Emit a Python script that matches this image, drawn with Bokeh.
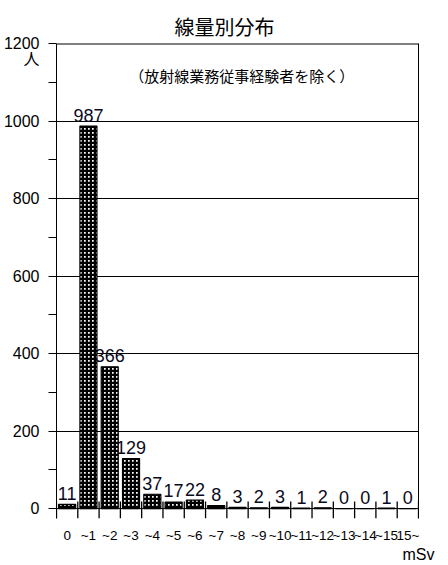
from bokeh.plotting import figure
from bokeh.models import (Range1d, LinearAxis, FixedTicker, Span, Label,
                          Title, ColumnDataSource)
from bokeh.core.properties import value
from bokeh.embed import file_html
from bokeh.resources import INLINE

title_text = "線量別分布"
subtitle_text = "（放射線業務従事経験者を除く）"
y_unit = "人"
x_unit = "mSv"
categories = ["0", "~1", "~2", "~3", "~4", "~5", "~6", "~7", "~8", "~9",
              "~10", "~11", "~12", "~13", "~14", "~15", "15~"]
counts = [11, 987, 366, 129, 37, 17, 22, 8, 3, 2, 3, 1, 2, 0, 0, 1, 0]
y_major = [0, 200, 400, 600, 800, 1000, 1200]
y_minor = [0, 100, 200, 300, 400, 500, 600, 700, 800, 900, 1000, 1100, 1200]
y_unit_pos = 1159
grid_vals = [200, 400, 600, 800, 1000]

NUM = "'Liberation Sans', 'Noto Sans CJK JP', sans-serif"
LAT = "Liberation Sans"
CJK = "Noto Sans CJK JP"

n = len(categories)
xs = list(range(n))
src = ColumnDataSource(dict(x=xs, top=counts, label=[str(c) for c in counts]))

YMIN = -25.6
YMAX = 1200
p = figure(width=440, height=565, output_backend="svg", toolbar_location=None,
           x_range=Range1d(-0.5, n - 0.5), y_range=Range1d(YMIN, YMAX),
           min_border_left=30, min_border_right=22, min_border_top=43,
           min_border_bottom=20, x_axis_location=None, y_axis_location=None)
p.outline_line_color = None
p.background_fill_color = "white"
p.border_fill_color = "white"
p.title.visible = False

main_title = Title(text=title_text, align="left", offset=118, standoff=5,
                   text_font=CJK, text_font_size="20px",
                   text_font_style="normal", text_color="#000000")
p.add_layout(main_title, "above")

# left axis: tick marks drawn as minor ticks, labels from major ticks
ya = LinearAxis(ticker=FixedTicker(ticks=y_major + [y_unit_pos], minor_ticks=y_minor))
ya.major_label_overrides = {y_unit_pos: y_unit}
ya.major_tick_out = 0
ya.major_tick_in = 0
ya.minor_tick_out = 8
ya.minor_tick_in = 0
ya.major_label_standoff = 9
ya.major_label_text_font = NUM
ya.major_label_text_font_size = "16px"
ya.major_label_text_color = "#000000"
ya.axis_line_color = "black"
p.add_layout(ya, "left")

# bottom axis (labels only) with unit as axis label
xa = LinearAxis(ticker=FixedTicker(ticks=xs, minor_ticks=[]))
xa.major_label_overrides = {i: c for i, c in enumerate(categories)}
xa.major_tick_out = 0
xa.major_tick_in = 0
xa.axis_line_color = None
xa.major_label_standoff = 9
xa.major_label_text_font = LAT
xa.major_label_text_font_size = "13.5px"
xa.major_label_text_color = "#000000"
xa.axis_label = x_unit
xa.axis_label_standoff = 0
xa.axis_label_text_font = LAT
xa.axis_label_text_font_size = "16px"
xa.axis_label_text_font_style = "normal"
xa.axis_label_text_color = "#000000"
xa.axis_label_align = "end"
p.add_layout(xa, "below")

# right frame line
ra = LinearAxis(ticker=FixedTicker(ticks=[], minor_ticks=[]))
ra.major_tick_out = 0
ra.major_label_standoff = 0
ra.major_label_text_font_size = "0px"
p.add_layout(ra, "right")
# top frame line
p.add_layout(Span(location=YMAX, dimension="width", line_color="black", line_width=2))

p.xgrid.visible = False
p.ygrid.ticker = FixedTicker(ticks=grid_vals)
p.ygrid.grid_line_color = "black"
p.ygrid.grid_line_width = 1

p.add_layout(Span(location=0, dimension="width", line_color="black", line_width=1))

# category separator ticks
seps = [i - 0.5 for i in range(n + 1)]
p.segment(x0=seps, x1=seps, y0=[YMIN] * len(seps), y1=[18] * len(seps),
          line_color="black", line_width=1.3)

p.vbar(x="x", top="top", width=0.8, bottom=0, source=src,
       fill_color="white", line_color="black", line_width=1.2,
       hatch_pattern="+", hatch_color="black", hatch_weight=2.6, hatch_scale=4)

p.text(x="x", y="top", text="label", source=src, text_align="center",
       text_baseline="alphabetic", y_offset=-11, text_font=value(LAT),
       text_font_size="18px", text_color="#0a0a1e")

p.add_layout(Label(x=8.2, y=1118, text=subtitle_text, text_align="center",
                   text_baseline="middle", text_font=CJK, text_font_size="15px",
                   text_color="#000000"))

open("out.html", "w").write(file_html(p, INLINE))
